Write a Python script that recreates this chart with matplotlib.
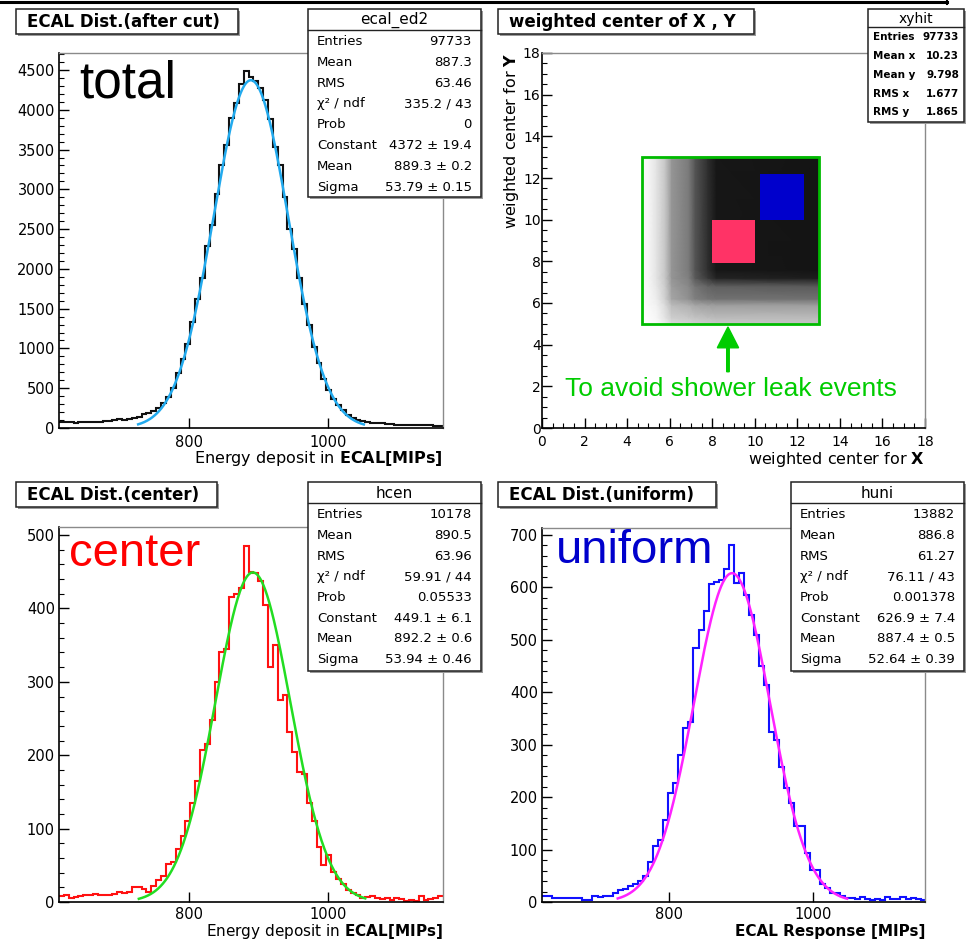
import numpy as np
import matplotlib
matplotlib.use("Agg")
import matplotlib.pyplot as plt
from matplotlib.patches import Rectangle
from matplotlib.lines import Line2D
from matplotlib.ticker import MultipleLocator, FixedLocator, NullLocator

plt.rcParams['font.family'] = ['DejaVu Sans']
plt.rcParams['mathtext.fontset'] = 'dejavusans'

# ---------------- data ----------------
bin_width = 7.0
total_lo = 613.0
total_counts = [80, 75, 70, 68, 70, 72, 75, 78, 80, 85, 90, 100, 110, 105, 115, 130,
                140, 175, 190, 215, 250, 320, 385, 500, 690, 870, 1060, 1330, 1620, 1880,
                2290, 2550, 2940, 3300, 3560, 3900, 4090, 4320, 4490, 4410, 4360, 4280,
                4120, 3880, 3530, 3300, 2910, 2500, 2250, 1880, 1560, 1290, 1020, 820,
                620, 480, 360, 290, 230, 165, 130, 100, 85, 75, 68, 62, 58, 52, 48, 42,
                40, 36, 38, 34, 36, 32, 35, 30, 28]

center_lo = 613.0
center_counts = [8, 9, 6, 7, 8, 9, 10, 11, 9, 10, 9, 11, 13, 12, 14, 20,
                 20, 18, 14, 22, 30, 35, 52, 55, 72, 90, 110, 135, 165, 207,
                 215, 248, 300, 340, 345, 415, 420, 428, 485, 450, 448, 438,
                 405, 320, 350, 275, 282, 232, 205, 177, 175, 135, 110, 75,
                 50, 64, 41, 32, 24, 16, 12, 9, 6, 7, 8, 6, 4, 5, 3, 5,
                 4, 2, 3, 2, 8, 3, 4, 6, 8]

uniform_lo = 624.0
uniform_counts = [12, 12, 8, 8, 8, 8, 8, 8, 4, 4, 12, 10, 12, 12, 18, 22,
                  25, 30, 35, 40, 50, 77, 106, 118, 156, 207, 226, 280, 331, 344,
                  484, 519, 554, 606, 610, 614, 635, 681, 608, 628, 585, 547,
                  509, 449, 414, 325, 308, 258, 217, 189, 144, 144, 93, 61,
                  61, 35, 27, 17, 17, 12, 8, 8, 6, 10, 5, 4, 6, 3, 10, 6,
                  6, 10, 6, 8, 5, 3]

# gaussian fit results (constant, mean, sigma) and fit ranges
total_fit = (4372.0, 889.3, 53.79)
center_fit = (449.1, 892.2, 53.94)
uniform_fit = (626.9, 887.4, 52.64)
total_fit_range = (727, 1052)
center_fit_range = (728, 1054)
uniform_fit_range = (729, 1047)

total_stats = [("Entries", "97733"), ("Mean", "887.3"), ("RMS", "63.46"),
               ("χ² / ndf", "335.2 / 43"), ("Prob", "0"), ("Constant", "4372 ± 19.4"),
               ("Mean", "889.3 ± 0.2"), ("Sigma", "53.79 ± 0.15")]
center_stats = [("Entries", "10178"), ("Mean", "890.5"), ("RMS", "63.96"),
                ("χ² / ndf", "59.91 / 44"), ("Prob", "0.05533"), ("Constant", "449.1 ± 6.1"),
                ("Mean", "892.2 ± 0.6"), ("Sigma", "53.94 ± 0.46")]
uniform_stats = [("Entries", "13882"), ("Mean", "886.8"), ("RMS", "61.27"),
                 ("χ² / ndf", "76.11 / 43"), ("Prob", "0.001378"), ("Constant", "626.9 ± 7.4"),
                 ("Mean", "887.4 ± 0.5"), ("Sigma", "52.64 ± 0.39")]
xy_stats = [("Entries", "97733"), ("Mean x", "10.23"), ("Mean y", "9.798"),
            ("RMS x", "1.677"), ("RMS y", "1.865")]

# 2D hit map (weighted centre) – density levels at grid nodes
dens_x = [4.7, 5.0, 5.4, 5.8, 6.1, 6.9, 7.2, 7.8, 8.2, 13.0]
dens_y = [5.0, 5.3, 5.9, 6.2, 6.8, 7.2, 7.6, 13.0]
dens_levels = [
    [0.00, 0.02, 0.05, 0.15, 0.25, 0.28, 0.30, 0.32, 0.33, 0.35],
    [0.00, 0.03, 0.08, 0.20, 0.30, 0.33, 0.35, 0.37, 0.38, 0.38],
    [0.02, 0.05, 0.12, 0.25, 0.38, 0.42, 0.45, 0.47, 0.48, 0.48],
    [0.03, 0.06, 0.15, 0.30, 0.45, 0.52, 0.58, 0.62, 0.63, 0.63],
    [0.04, 0.07, 0.18, 0.32, 0.48, 0.55, 0.62, 0.68, 0.70, 0.72],
    [0.05, 0.08, 0.20, 0.34, 0.50, 0.58, 0.72, 0.82, 0.88, 0.90],
    [0.05, 0.08, 0.20, 0.34, 0.50, 0.60, 0.74, 0.85, 0.92, 0.93],
    [0.05, 0.08, 0.20, 0.34, 0.50, 0.60, 0.74, 0.85, 0.92, 0.93],
]
cut_box = (4.7, 13.0, 5.0, 13.0)
center_box = (8.0, 10.0, 7.9, 10.0)
uniform_box = (10.25, 12.3, 10.0, 12.2)
arrow_x, arrow_y0, arrow_y1 = 8.74, 2.7, 4.85

# ---------------- figure ----------------
W, H = 969, 940
fig = plt.figure(figsize=(W / 100, H / 100), dpi=100)


def fx(x):
    return x / W


def fy(y):
    return 1 - y / H


def add_axes(x0, y0, x1, y1):
    return fig.add_axes([fx(x0), fy(y1), (x1 - x0) / W, (y1 - y0) / H])


def style(ax, tick_size=10.5, xpad=5):
    ax.tick_params(axis='both', which='both', direction='in', top=False, right=False,
                   labelsize=tick_size)
    ax.tick_params(which='major', length=7, width=1.0)
    ax.tick_params(which='minor', length=3.5, width=0.8)
    ax.tick_params(axis='y', pad=3)
    ax.tick_params(axis='x', pad=xpad)
    for s in ['top', 'right']:
        ax.spines[s].set_color('#8a8a8a')
        ax.spines[s].set_linewidth(1.0)
    for s in ['left', 'bottom']:
        ax.spines[s].set_color('black')
        ax.spines[s].set_linewidth(1.2)


def pave(x0, y0, x1, y1, z=5):
    fig.add_artist(Rectangle((fx(x0 + 2), fy(y1 + 2)), (x1 - x0) / W, (y1 - y0) / H,
                             transform=fig.transFigure, facecolor='#9a9a9a',
                             edgecolor='none', zorder=z))
    fig.add_artist(Rectangle((fx(x0), fy(y1)), (x1 - x0) / W, (y1 - y0) / H,
                             transform=fig.transFigure, facecolor='white',
                             edgecolor='#222222', linewidth=1.1, zorder=z + 0.1))


def title_box(x0, y0, x1, y1, text):
    pave(x0, y0, x1, y1)
    fig.text(fx(x0 + 11), fy((y0 + y1) / 2 + 0.5), text, fontsize=12, fontweight='bold',
             ha='left', va='center', zorder=6)


def stats_box(x0, y0, x1, y1, title, header_y, rows, row0, dy, lab_x, val_x,
              fs=9.5, title_fs=11, weight='normal'):
    pave(x0, y0, x1, y1)
    fig.add_artist(Line2D([fx(x0), fx(x1)], [fy(header_y), fy(header_y)],
                          transform=fig.transFigure, color='#222222', lw=1.0, zorder=6))
    fig.text(fx((x0 + x1) / 2), fy((y0 + header_y) / 2 + 0.5), title, fontsize=title_fs,
             ha='center', va='center', zorder=6)
    for i, (lab, val) in enumerate(rows):
        yy = fy(row0 + i * dy)
        fig.text(fx(lab_x), yy, lab, fontsize=fs, ha='left', va='center',
                 fontweight=weight, zorder=6)
        fig.text(fx(val_x), yy, val, fontsize=fs, ha='right', va='center',
                 fontweight=weight, zorder=6)


def gauss_curve(ax, fit, rng, color):
    c, m, s = fit
    xx = np.linspace(rng[0], rng[1], 400)
    ax.plot(xx, c * np.exp(-0.5 * ((xx - m) / s) ** 2), color=color, lw=1.8, zorder=3)


def hist_panel(box, lo, counts, color, fit, rng, fcolor, xlim, ylim, ystep, yminor, xpad=5):
    ax = add_axes(*box)
    edges = lo + bin_width * np.arange(len(counts) + 1)
    ax.stairs(counts, edges, baseline=None, color=color, lw=1.5, zorder=2)
    gauss_curve(ax, fit, rng, fcolor)
    ax.set_xlim(*xlim)
    ax.set_ylim(*ylim)
    ax.xaxis.set_major_locator(FixedLocator([800, 1000]))
    ax.xaxis.set_minor_locator(NullLocator())
    ax.yaxis.set_major_locator(MultipleLocator(ystep))
    ax.yaxis.set_minor_locator(MultipleLocator(yminor))
    style(ax, xpad=xpad)
    return ax


# ---- top-left: total
hist_panel((59, 53, 443, 428), total_lo, total_counts, '#111111', total_fit,
           total_fit_range, '#22aaee', (613, 1166), (0, 4714), 500, 100)
title_box(16, 9, 238, 34, "ECAL Dist.(after cut)")
stats_box(308, 9, 481, 197, "ecal_ed2", 30, total_stats, 41.5, 20.8, 317, 472)
fig.text(fx(79), fy(98), "total", fontsize=37, family='Liberation Sans',
         color='black', ha='left', va='baseline')
fig.text(fx(443), fy(459), r"Energy deposit in $\mathbf{ECAL[MIPs]}$", fontsize=11.5,
         ha='right', va='center')

# ---- bottom-left: center
hist_panel((59, 527, 443, 902), center_lo, center_counts, '#ff1111', center_fit,
           center_fit_range, '#22dd22', (613, 1166), (0, 511), 100, 20, xpad=3.5)
title_box(16, 482, 217, 507, "ECAL Dist.(center)")
stats_box(308, 482, 481, 671, "hcen", 503, center_stats, 515, 20.6, 317, 472)
fig.text(fx(69), fy(566), "center", fontsize=34, family='Liberation Sans',
         color='#ff0000', ha='left', va='baseline')
fig.text(fx(443), fy(931.5), r"Energy deposit in $\mathbf{ECAL[MIPs]}$", fontsize=11,
         ha='right', va='center')

# ---- bottom-right: uniform
hist_panel((542, 528, 925, 902), uniform_lo, uniform_counts, '#1111ff', uniform_fit,
           uniform_fit_range, '#ff22ff', (624, 1155), (0, 713), 100, 20, xpad=3.5)
title_box(498, 482, 716, 507, "ECAL Dist.(uniform)")
stats_box(791, 482, 964, 671, "huni", 503, uniform_stats, 515, 20.6, 800, 955)
fig.text(fx(556), fy(563), "uniform", fontsize=34, family='Liberation Sans',
         color='#0000cc', ha='left', va='baseline')
fig.text(fx(925), fy(931.5), "ECAL Response [MIPs]", fontsize=11, fontweight='bold',
         ha='right', va='center')

# ---- top-right: weighted centre map
ax = add_axes(542, 53, 925, 428)
gx, gy = np.meshgrid(dens_x, dens_y)
ax.pcolormesh(gx, gy, np.array(dens_levels), cmap='Greys', vmin=0, vmax=1,
              shading='gouraud', zorder=1)
x0, x1, y0, y1 = cut_box
ax.add_patch(Rectangle((x0, y0), x1 - x0, y1 - y0, fill=False, edgecolor='#00bb00',
                       lw=2, zorder=4))
x0, x1, y0, y1 = center_box
ax.add_patch(Rectangle((x0, y0), x1 - x0, y1 - y0, facecolor='#ff3366',
                       edgecolor='none', zorder=3))
x0, x1, y0, y1 = uniform_box
ax.add_patch(Rectangle((x0, y0), x1 - x0, y1 - y0, facecolor='#0000cc',
                       edgecolor='none', zorder=3))
ax.arrow(arrow_x, arrow_y0, 0, arrow_y1 - arrow_y0, width=0.12, head_width=1.0,
         head_length=1.0, length_includes_head=True, color='#00cc00', zorder=4)
ax.text(8.9, 1.85, "To avoid shower leak events", fontsize=19, family='Liberation Sans',
        color='#00cc00', ha='center', va='center', zorder=5)
ax.set_xlim(0, 18)
ax.set_ylim(0, 18)
ax.xaxis.set_major_locator(MultipleLocator(2))
ax.xaxis.set_minor_locator(MultipleLocator(0.5))
ax.yaxis.set_major_locator(MultipleLocator(2))
ax.yaxis.set_minor_locator(MultipleLocator(0.5))
style(ax, tick_size=10)
ax.tick_params(axis='y', pad=1)
title_box(498, 9, 754, 34, "weighted center of X , Y")
stats_box(868, 9, 964, 122, "xyhit", 27, xy_stats, 37.5, 18.7, 873, 959,
          fs=7.5, title_fs=10, weight='bold')
fig.text(fx(925), fy(460), r"weighted center for $\mathbf{X}$", fontsize=11.5,
         ha='right', va='center')
fig.text(fx(512), fy(53), r"weighted center for $\mathbf{Y}$", fontsize=11.5,
         rotation=90, ha='center', va='top')

# top frame line of the slide
fig.add_artist(Line2D([0, fx(947)], [fy(1.5), fy(1.5)], transform=fig.transFigure,
                      color='black', lw=2.2, zorder=7))
fig.add_artist(Line2D([fx(947), fx(947)], [fy(0), fy(4)], transform=fig.transFigure,
                      color='black', lw=1.5, zorder=7))

fig.savefig("out.png", dpi=100, facecolor='white')
